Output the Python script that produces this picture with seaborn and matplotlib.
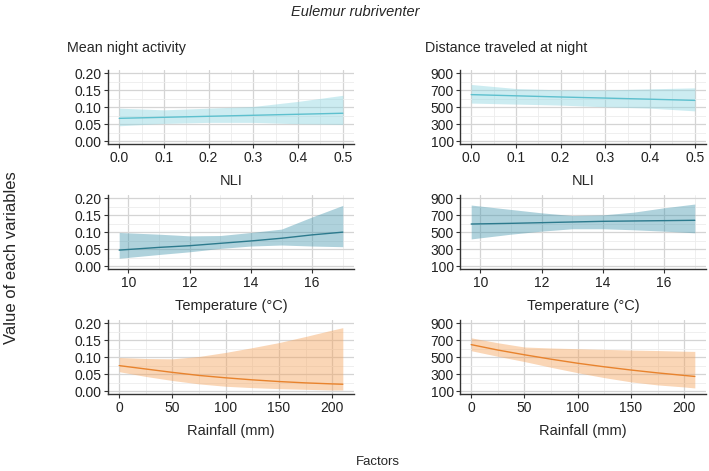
import numpy as np
import pandas as pd
import seaborn as sns
import matplotlib.pyplot as plt

# NLI panels
nli_x = [0.0, 0.1, 0.2, 0.3, 0.4, 0.5]
act_nli = [0.067, 0.070, 0.073, 0.076, 0.079, 0.082]
act_nli_lo = [0.045, 0.052, 0.055, 0.055, 0.051, 0.049]
act_nli_hi = [0.097, 0.092, 0.097, 0.102, 0.117, 0.135]
dist_nli = [648, 634, 620, 607, 594, 580]
dist_nli_lo = [548, 536, 524, 504, 488, 456]
dist_nli_hi = [768, 720, 704, 704, 716, 728]

# temperature panels
temp_x = [9.7, 11, 12, 13, 14, 15, 16, 17]
act_temp = [0.047, 0.055, 0.060, 0.067, 0.074, 0.082, 0.092, 0.100]
act_temp_lo = [0.023, 0.034, 0.042, 0.052, 0.059, 0.062, 0.059, 0.057]
act_temp_hi = [0.099, 0.094, 0.089, 0.090, 0.099, 0.109, 0.145, 0.179]
dist_temp = [596, 604, 612, 620, 628, 632, 636, 640]
dist_temp_lo = [420, 476, 512, 540, 540, 528, 512, 492]
dist_temp_hi = [820, 768, 728, 696, 704, 736, 788, 832]

# rainfall panels
rain_x = [0, 25, 50, 75, 100, 125, 150, 175, 200, 210]
act_rain = [0.075, 0.065, 0.055, 0.046, 0.039, 0.033, 0.028, 0.024, 0.021, 0.020]
act_rain_lo = [0.057, 0.043, 0.031, 0.021, 0.014, 0.010, 0.007, 0.005, 0.003, 0.003]
act_rain_hi = [0.099, 0.096, 0.095, 0.102, 0.114, 0.128, 0.143, 0.161, 0.180, 0.187]
dist_rain = [648, 584, 528, 476, 428, 386, 348, 314, 284, 272]
dist_rain_lo = [576, 510, 448, 380, 316, 258, 208, 172, 148, 136]
dist_rain_hi = [728, 670, 620, 608, 600, 592, 584, 578, 570, 568]

col_titles = ["Mean night activity", "Distance traveled at night"]
row_labels = ["NLI", "Temperature (\u00b0C)", "Rainfall (mm)"]
line_cols = ["#5DC0CE", "#2C7A8D", "#E8832D"]
fill_cols = ["#8FD6E1", "#4E9CB2", "#F4A45E"]

rows = [
    (nli_x, [(act_nli, act_nli_lo, act_nli_hi), (dist_nli, dist_nli_lo, dist_nli_hi)]),
    (temp_x, [(act_temp, act_temp_lo, act_temp_hi), (dist_temp, dist_temp_lo, dist_temp_hi)]),
    (rain_x, [(act_rain, act_rain_lo, act_rain_hi), (dist_rain, dist_rain_lo, dist_rain_hi)]),
]

sns.set_theme(style="white")
plt.rcParams['font.family'] = ['Liberation Sans', 'DejaVu Sans']

W, H = 709, 471
fig = plt.figure(figsize=(W / 100, H / 100), dpi=100)

col_left = [108, 460]
ax_w = 246
row_top = [69.9, 194.9, 319.9]
ax_h = 74.5

xlims = [(-0.025, 0.525), (9.335, 17.365), (-10.5, 220.5)]
xmajor = [np.arange(0, 0.51, 0.1), [10, 12, 14, 16], [0, 50, 100, 150, 200]]
xminor = [np.arange(0.05, 0.5, 0.1), [11, 13, 15, 17], [25, 75, 125, 175]]
xfmt = ["{:.1f}", "{:d}", "{:d}"]
ylims = [(-0.01, 0.21), (60, 940)]
ymajor = [[0, 0.05, 0.10, 0.15, 0.20], [100, 300, 500, 700, 900]]
yminor = [[0.025, 0.075, 0.125, 0.175], [200, 400, 600, 800]]
yfmt = ["{:.2f}", "{:d}"]

for r, (xs, series) in enumerate(rows):
    for c, (y, lo, hi) in enumerate(series):
        ax = fig.add_axes([col_left[c] / W, 1 - (row_top[r] + ax_h) / H, ax_w / W, ax_h / H])
        df = pd.DataFrame({"x": xs, "y": y, "lo": lo, "hi": hi})
        ax.set_xlim(*xlims[r])
        ax.set_ylim(*ylims[c])
        ax.set_xticks(xmajor[r])
        ax.set_xticks(xminor[r], minor=True)
        ax.set_yticks(ymajor[c])
        ax.set_yticks(yminor[c], minor=True)
        ax.set_xticklabels([xfmt[r].format(v if r == 0 else int(v)) for v in xmajor[r]])
        ax.set_yticklabels([yfmt[c].format(v if c == 0 else int(v)) for v in ymajor[c]])
        ax.grid(which="major", color="#D4D4D4", lw=0.9)
        ax.grid(which="minor", color="#EDEDED", lw=0.6)
        ax.set_axisbelow(True)
        ax.fill_between(df["x"], df["lo"], df["hi"], color=fill_cols[r], alpha=0.45, lw=0)
        sns.lineplot(data=df, x="x", y="y", ax=ax, color=line_cols[r], lw=1.0)
        ax.set_xlabel(row_labels[r], fontsize=10.5, labelpad=7)
        ax.set_ylabel("")
        for s in ["top", "right"]:
            ax.spines[s].set_visible(False)
        for s in ["left", "bottom"]:
            ax.spines[s].set_color("#333333")
            ax.spines[s].set_linewidth(1.0)
        ax.tick_params(which="major", axis="both", length=3, width=0.8, color="#333333",
                       labelsize=10, labelcolor="#222222", pad=1.5, bottom=True, left=True)
        ax.tick_params(which="minor", length=0)

fig.text(355 / W, 1 - 12 / H, "Eulemur rubriventer", ha="center", va="center",
         fontsize=10.5, style="italic")
fig.text(126 / W, 1 - 48 / H, col_titles[0], ha="center", va="center", fontsize=10.3)
fig.text(506 / W, 1 - 48 / H, col_titles[1], ha="center", va="center", fontsize=10.3)
fig.text(12 / W, 1 - 258 / H, "Value of each variables", ha="center", va="center",
         rotation=90, fontsize=12)
fig.text(378 / W, 1 - 462 / H, "Factors", ha="center", va="center", fontsize=9.5)

fig.savefig("out.png", dpi=100, facecolor="white")
